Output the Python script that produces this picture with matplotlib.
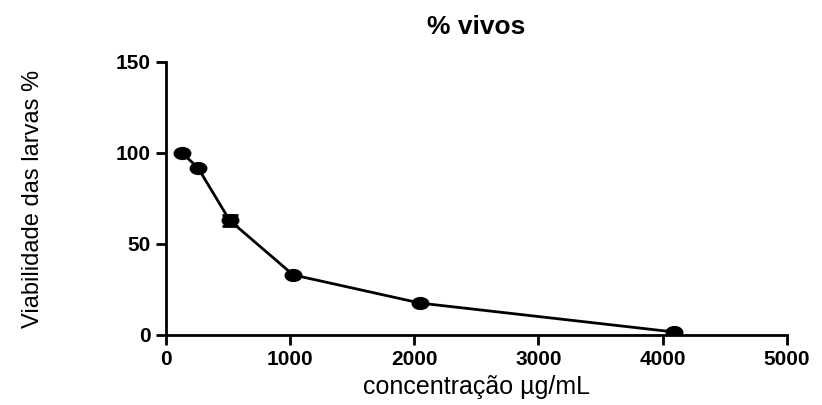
import matplotlib.pyplot as plt
from matplotlib.markers import MarkerStyle
from matplotlib.transforms import Affine2D

# Dados
concentracao = [128, 256, 512, 1024, 2048, 4096]
vivos = [100, 92, 63, 33, 17.5, 1.6]
erro = [0, 0, 3, 0, 0, 0]

plt.rcParams['font.family'] = ['Liberation Sans', 'DejaVu Sans']

fig = plt.figure(figsize=(8.22, 4.05), dpi=100)
ax = fig.add_axes([0.202, 0.173, 0.755, 0.674])

marcador = MarkerStyle('o', transform=Affine2D().scale(1.4, 1.0))
ax.errorbar(concentracao, vivos, yerr=erro, color='black', linewidth=2,
            marker=marcador, markersize=8.5, capsize=6, capthick=2, elinewidth=2)

ax.set_xlim(0, 5000)
ax.set_ylim(0, 150)
ax.set_xticks([0, 1000, 2000, 3000, 4000, 5000])
ax.set_yticks([0, 50, 100, 150])
ax.spines['top'].set_visible(False)
ax.spines['right'].set_visible(False)
ax.spines['left'].set_linewidth(2)
ax.spines['bottom'].set_linewidth(2)
ax.tick_params(direction='out', length=7, width=2, labelsize=15, pad=4)
for lbl in ax.get_xticklabels() + ax.get_yticklabels():
    lbl.set_fontweight('bold')

ax.set_title('% vivos', fontsize=19, fontweight='bold', pad=20)
ax.set_xlabel('concentração µg/mL', fontsize=18, labelpad=4)
ax.set_ylabel('Viabilidade das larvas %', fontsize=17, labelpad=52)

fig.savefig('out.png', dpi=100)
